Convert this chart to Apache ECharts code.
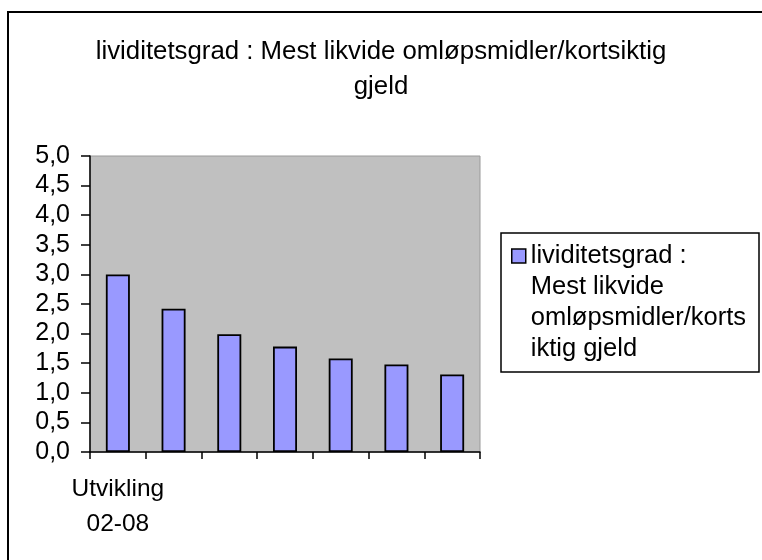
<!DOCTYPE html>
<html>
<head>
<meta charset="utf-8">
<script src="https://cdn.jsdelivr.net/npm/echarts@6/dist/echarts.min.js"></script>
<style>
html,body{margin:0;padding:0;background:#fff;}
#chart{width:762px;height:560px;}
</style>
</head>
<body>
<div id="chart"></div>
<script>
var titleText = 'lividitetsgrad : Mest likvide omløpsmidler/kortsiktig\ngjeld';
var seriesName = 'lividitetsgrad : Mest likvide omløpsmidler/kortsiktig gjeld';
var legendLines = ['lividitetsgrad :', 'Mest likvide', 'omløpsmidler/korts', 'iktig gjeld'];
var categories = ['Utvikling 02-08', ' ', '  ', '   ', '    ', '     ', '      '];
var values = [3.00, 2.42, 1.99, 1.78, 1.58, 1.48, 1.31];
var yMin = 0, yMax = 5, yInterval = 0.5;

var FONT = '"Liberation Sans", Arial, sans-serif';
var chart = echarts.init(document.getElementById('chart'), null, {renderer: 'canvas'});
chart.setOption({
  animation: false,
  backgroundColor: '#ffffff',
  title: {
    text: titleText,
    left: 'center',
    top: 29,
    textStyle: {fontFamily: FONT, fontSize: 25.8, fontWeight: 'normal', color: '#000', lineHeight: 35}
  },
  grid: {
    left: 90, right: 282, top: 156, bottom: 108,
    show: true, backgroundColor: '#C0C0C0', borderColor: '#9a9a9a', borderWidth: 1
  },
  legend: {
    left: 511, top: 147.5, padding: 0,
    itemWidth: 14, itemHeight: 14,
    icon: 'rect',
    data: [seriesName],
    formatter: function () { return ' \n \n \n' + legendLines.join('\n'); },
    itemStyle: {borderColor: '#000', borderWidth: 1.5},
    textStyle: {fontFamily: FONT, fontSize: 25.5, lineHeight: 31, color: '#000'}
  },
  xAxis: {
    type: 'category',
    data: categories,
    axisLine: {lineStyle: {color: '#000', width: 1.5}},
    axisTick: {show: true, length: 7, inside: false, lineStyle: {color: '#000', width: 1.5}},
    axisLabel: {
      interval: 0, margin: 20,
      fontFamily: FONT, fontSize: 24.5, lineHeight: 35, color: '#000',
      formatter: function (v) { return v.trim() === '' ? '' : v.replace(' ', '\n'); }
    }
  },
  yAxis: {
    type: 'value', min: yMin, max: yMax, interval: yInterval,
    splitLine: {show: false},
    axisLine: {show: true, lineStyle: {color: '#000', width: 1.5}},
    axisTick: {show: true, length: 9, lineStyle: {color: '#000', width: 1.5}},
    axisLabel: {
      margin: 20, fontFamily: FONT, fontSize: 25, color: '#000',
      formatter: function (v) { return v.toFixed(1).replace('.', ','); }
    }
  },
  series: [{
    name: seriesName,
    type: 'bar',
    data: values,
    barWidth: 24,
    itemStyle: {color: '#9999FF', borderColor: '#000', borderWidth: 1.8}
  }],
  graphic: [
    {type: 'rect', shape: {x: 8, y: 12, width: 900, height: 700}, style: {fill: 'none', stroke: '#000', lineWidth: 2}, silent: true},
    {type: 'rect', shape: {x: 501, y: 233, width: 258, height: 139}, style: {fill: 'none', stroke: '#000', lineWidth: 1.5}, silent: true}
  ]
});
</script>
</body>
</html>
